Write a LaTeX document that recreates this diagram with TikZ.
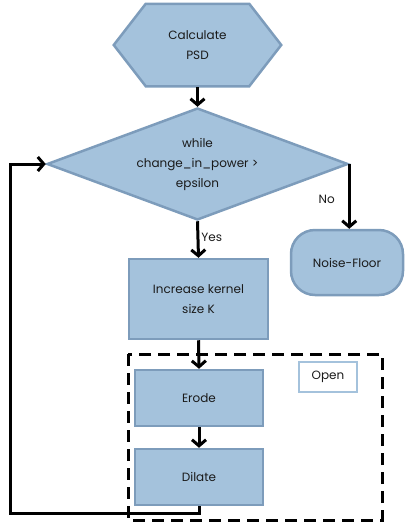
\documentclass[tikz,border=0pt]{standalone}
\usepackage{fontspec}
\setmainfont{Poppins}
\usetikzlibrary{shapes.geometric,arrows.meta,backgrounds}
\definecolor{boxfill}{HTML}{A4C2DC}
\definecolor{boxline}{HTML}{7D9CBB}
\definecolor{txt}{HTML}{1A1A1A}
\tikzset{
  base/.style={fill=boxfill,draw=boxline,line width=2.5pt,text=txt,align=center,font=\fontsize{12}{20}\selectfont,inner sep=0pt},
  procbox/.style={base,rectangle},
  decbox/.style={base,diamond,aspect=2.69},
  termbox/.style={base,rectangle,rounded corners=24pt},
  flow/.style={line width=3pt,-{Straight Barb[length=6pt,width=14pt]}},
  lbl/.style={text=txt,font=\fontsize{12}{14}\selectfont,inner sep=1pt}
}
\begin{document}
\begin{tikzpicture}[x=1pt,y=-1pt]
\useasboundingbox (0,0) rectangle (409,523);
% hexagon
\node[base,fill=none,draw=none,minimum width=101pt,minimum height=80pt] (psd) at (197.5,45) {Calculate\\PSD};
\begin{scope}[on background layer]
\draw[fill=boxfill,draw=boxline,line width=2.5pt] (psd.north west) -- (psd.north east) -- ([xshift=32pt]psd.east) -- (psd.south east) -- (psd.south west) -- ([xshift=-32pt]psd.west) -- cycle;
\end{scope}
\node[decbox,minimum width=301pt,minimum height=112pt] (dec) at (197.5,164) {while\\change\_in\_power >\\epsilon};
\node[termbox,minimum width=112pt,minimum height=65pt] (noise) at (347,262.5) {Noise-Floor};
\node[procbox,minimum width=139pt,minimum height=80pt] (inc) at (198.5,299) {Increase kernel\\size K};
\node[procbox,minimum width=128pt,minimum height=56pt] (erode) at (199,398) {Erode};
\node[procbox,minimum width=128pt,minimum height=56pt] (dilate) at (199,477) {Dilate};
\node[draw=boxfill,fill=white,line width=2.5pt,minimum width=58pt,minimum height=30pt,inner sep=0pt,text=txt,font=\fontsize{12}{14}\selectfont] (open) at (328,377) {Open};
\coordinate (dnw) at (128,354);
\coordinate (dse) at (382,520);
\draw[line width=3pt,dash pattern=on 12pt off 7pt] (dnw) rectangle (dse);
% connectors
\draw[flow] ([yshift=-1pt]psd.south) -- (dec.north);
\draw[flow] (dec.south) -- (inc.north) node[lbl,pos=0.45,anchor=west,xshift=1pt] {Yes};
\draw[flow] (dec.east) -- (dec.east |- noise.north) node[lbl,pos=0.55,anchor=east,xshift=-12pt] {No};
\draw[flow] (inc.south) -- (erode.north);
\draw[flow] (erode.south) -- (dilate.north);
\coordinate (l1) at (10,513);
\draw[flow] (dilate.south) -- (dilate.south |- l1) -- (l1) -- (l1 |- dec.west) -- (dec.west);
\end{tikzpicture}
\end{document}
